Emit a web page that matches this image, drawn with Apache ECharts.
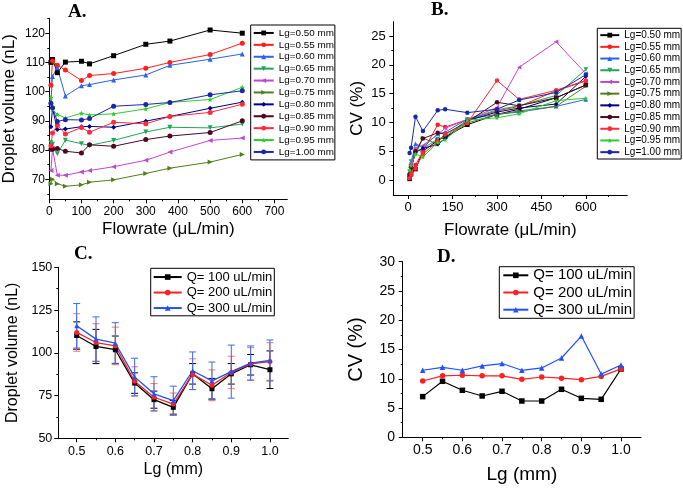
<!DOCTYPE html>
<html><head><meta charset="utf-8">
<script src="https://cdn.jsdelivr.net/npm/echarts@6/dist/echarts.min.js"></script>
<style>html,body{margin:0;padding:0;background:#fff}#c{width:683px;height:489px}</style>
</head><body><div id="c"></div>
<script>
// ---------- data ----------
const flowrates = [5, 10, 25, 50, 100, 125, 200, 300, 375, 500, 600];
const lgNames = ['Lg=0.50 mm','Lg=0.55 mm','Lg=0.60 mm','Lg=0.65 mm','Lg=0.70 mm','Lg=0.75 mm','Lg=0.80 mm','Lg=0.85 mm','Lg=0.90 mm','Lg=0.95 mm','Lg=1.00 mm'];
// Panel A: droplet volume (nL)
const volLg050 = [110.0, 111.0, 106.5, 110.1, 110.4, 109.5, 112.3, 116.2, 117.3, 121.1, 120.0];
const volLg055 = [102.2, 110.5, 109.0, 107.4, 103.8, 105.5, 106.2, 108.0, 110.0, 112.7, 116.6];
const volLg060 = [96.5, 105.2, 108.2, 98.5, 102.0, 102.4, 104.0, 105.7, 109.0, 111.1, 112.9];
const volLg065 = [82.5, 82.0, 78.7, 83.4, 82.2, 81.6, 83.3, 86.2, 87.8, 87.6, 88.9];
const volLg070 = [73.0, 80.5, 71.4, 71.4, 72.5, 73.0, 74.3, 76.5, 79.3, 83.3, 84.1];
const volLg075 = [68.5, 70.0, 68.5, 67.6, 68.1, 69.0, 69.8, 72.0, 73.8, 75.9, 78.5];
const volLg080 = [88.0, 94.3, 87.0, 87.2, 88.0, 88.1, 87.8, 89.9, 91.5, 94.3, 96.4];
const volLg085 = [80.3, 80.3, 80.5, 79.6, 79.0, 81.8, 81.3, 83.6, 84.8, 86.0, 90.0];
const volLg090 = [81.5, 85.8, 88.5, 85.5, 87.7, 86.1, 89.5, 89.0, 91.5, 92.9, 95.7];
const volLg095 = [98.0, 94.0, 92.2, 91.0, 92.6, 92.0, 92.4, 94.1, 96.3, 97.3, 101.5];
const volLg100 = [96.0, 94.5, 89.8, 90.4, 90.3, 90.8, 95.0, 95.6, 96.3, 98.9, 100.3];
// Panel B: CV (%)
const cvLg050 = [0.2, 1.0, 1.9, 5.0, 6.9, 7.5, 9.6, 11.4, 12.3, 14.3, 16.5];
const cvLg055 = [0.5, 1.3, 2.6, 5.0, 9.6, 9.2, 10.5, 12.0, 12.8, 15.5, 17.2];
const cvLg060 = [1.0, 3.0, 6.3, 5.7, 8.0, 8.3, 10.6, 11.4, 11.8, 12.8, 14.0];
const cvLg065 = [1.5, 3.2, 5.0, 5.5, 7.1, 7.5, 10.5, 12.2, 12.9, 14.7, 19.2];
const cvLg070 = [1.0, 3.0, 5.5, 6.0, 7.9, 9.0, 10.5, 12.6, 19.6, 24.0, 18.5];
const cvLg075 = [0.8, 2.5, 4.5, 7.3, 6.2, 7.2, 9.9, 11.4, 12.0, 12.8, 16.3];
const cvLg080 = [0.6, 2.0, 4.8, 5.5, 6.2, 7.2, 10.3, 11.8, 12.5, 13.2, 18.0];
const cvLg085 = [1.0, 2.2, 5.0, 7.2, 8.2, 8.0, 10.1, 13.5, 12.9, 14.3, 16.5];
const cvLg090 = [0.3, 1.0, 2.0, 4.5, 6.7, 8.0, 9.9, 17.3, 14.0, 15.6, 17.3];
const cvLg095 = [1.8, 2.5, 4.5, 4.0, 6.5, 7.0, 10.4, 10.8, 11.5, 13.8, 14.2];
const cvLg100 = [4.7, 5.6, 11.0, 8.5, 12.1, 12.3, 11.7, 12.3, 13.9, 15.2, 18.3];
// Panels C and D
const lgValues = [0.5, 0.55, 0.6, 0.65, 0.7, 0.75, 0.8, 0.85, 0.9, 0.95, 1.0];
const qNames = ['Q= 100 uL/min', 'Q= 200 uL/min', 'Q= 300 uL/min'];
const volQ100 = [110.1, 103.7, 101.8, 82.3, 72.6, 68.1, 87.7, 79.0, 87.7, 93.0, 90.1];
const volQ200 = [111.9, 106.0, 104.0, 83.3, 74.0, 70.0, 87.5, 81.0, 88.5, 93.5, 94.9];
const volQ300 = [115.8, 108.0, 105.6, 85.8, 76.0, 72.0, 89.5, 83.6, 89.0, 94.0, 95.5];
const errQ100 = [8, 10, 8, 6, 5, 4, 6, 6, 6, 6, 11];
const errQ200 = [11, 11, 11, 8.5, 8, 6.5, 9, 9, 9.5, 9.5, 11];
const errQ300 = [13, 13, 12, 11, 10, 8.5, 11, 11, 15.5, 10, 12];
const cvQ100 = [6.95, 9.57, 8.03, 7.06, 7.86, 6.2, 6.2, 8.2, 6.66, 6.49, 11.67];
const cvQ200 = [9.62, 10.5, 10.6, 10.5, 10.5, 9.9, 10.3, 10.1, 9.85, 10.4, 11.7];
const cvQ300 = [11.45, 11.96, 11.45, 12.2, 12.6, 11.45, 11.85, 13.55, 17.3, 10.8, 12.35];
// tick labels
const flowTicksA = [0, 100, 200, 300, 400, 500, 600, 700];
const volTicksA = [70, 80, 90, 100, 110, 120];
const flowTicksB = [0, 150, 300, 450, 600];
const cvTicksB = [0, 5, 10, 15, 20, 25];
const lgTicks = [0.5, 0.6, 0.7, 0.8, 0.9, 1.0];
const volTicksC = [50, 75, 100, 125, 150];
const cvTicksD = [0, 5, 10, 15, 20, 25, 30];
// minor tick positions
const flowMinorA = [50, 150, 250, 350, 450, 550, 650];
const volMinorA = [65, 75, 85, 95, 105, 115, 125];
const flowMinorB = [75, 225, 375, 525, 675];
const cvMinorB = [2.5, 7.5, 12.5, 17.5, 22.5];
const lgMinor = [0.55, 0.65, 0.75, 0.85, 0.95];
const volMinorC = [62.5, 87.5, 112.5, 137.5];
const cvMinorD = [2.5, 7.5, 12.5, 17.5, 22.5, 27.5];

// ---------- styles ----------
const FONT = "'Liberation Sans', Arial, sans-serif";
const STAR = 'path://M0,-10L2.9,-4L9.5,-3.1L4.8,1.5L5.9,8.1L0,5L-5.9,8.1L-4.8,1.5L-9.5,-3.1L-2.9,-4Z';
const lgStyles = [
  {c:'#000000', s:'rect', r:0},
  {c:'#ff1f1f', s:'circle', r:0},
  {c:'#2a62e8', s:'triangle', r:0},
  {c:'#22a65a', s:'triangle', r:180},
  {c:'#c048cc', s:'triangle', r:90},
  {c:'#4f7f1a', s:'triangle', r:-90},
  {c:'#000088', s:'diamond', r:0},
  {c:'#4a0a22', s:'circle', r:0},
  {c:'#ff2a3a', s:'circle', r:0},
  {c:'#2ecc2e', s:STAR, r:0},
  {c:'#1a28a8', s:'circle', r:0}
];
const volA = [volLg050, volLg055, volLg060, volLg065, volLg070, volLg075, volLg080, volLg085, volLg090, volLg095, volLg100];
const cvB = [cvLg050, cvLg055, cvLg060, cvLg065, cvLg070, cvLg075, cvLg080, cvLg085, cvLg090, cvLg095, cvLg100];
const qStyles = [{c:'#000000', s:'rect', e:'#000000'}, {c:'#ff2020', s:'circle', e:'#ff7070'}, {c:'#2050ff', s:'triangle', e:'#3a6cf0'}];

function xAx(grid, min, max, ticks, name, o) {
  return {
    type:'value', gridIndex:grid, position:'bottom', min:min, max:max, name:name, nameLocation:'middle', nameGap:o.ng,
    nameTextStyle:{fontFamily:FONT, fontSize:o.nfs, color:'#000'},
    axisLine:{onZero:false, lineStyle:{color:'#000', width:1}},
    axisTick:{show:true, inside:false, length:4, customValues:ticks, lineStyle:{color:'#000'}},
    axisLabel:{customValues:ticks, margin:o.lm, fontFamily:FONT, fontSize:o.lfs, color:'#000', formatter:o.fmt},
    splitLine:{show:false}
  };
}
function yAx(grid, min, max, ticks, name, o) {
  return {
    type:'value', gridIndex:grid, position:'left', min:min, max:max, name:name, nameLocation:'middle', nameGap:o.ng,
    nameTextStyle:{fontFamily:FONT, fontSize:o.nfs, color:'#000'},
    axisLine:{onZero:false, lineStyle:{color:'#000', width:1}},
    axisTick:{show:true, inside:false, length:4, customValues:ticks, lineStyle:{color:'#000'}},
    axisLabel:{customValues:ticks, margin:o.lm, fontFamily:FONT, fontSize:o.lfs, color:'#000'},
    splitLine:{show:false}
  };
}
function minorAx(grid, min, max, ticks, pos) {
  return {
    type:'value', gridIndex:grid, position:pos, offset:0, min:min, max:max,
    axisLine:{show:false, onZero:false},
    axisTick:{show:true, inside:false, length:2, customValues:ticks, lineStyle:{color:'#000'}},
    axisLabel:{show:false}, splitLine:{show:false}
  };
}
const fmt1 = v => v.toFixed(1);

const series = [];
lgNames.forEach((n, i) => {
  const st = lgStyles[i];
  series.push({type:'line', name:n, xAxisIndex:0, yAxisIndex:0, data:flowrates.map((f, k) => [f, volA[i][k]]),
    symbol:st.s, symbolRotate:st.r, symbolSize:5, lineStyle:{width:1, color:st.c}, itemStyle:{color:st.c}, z:3});
});
lgNames.forEach((n, i) => {
  const st = lgStyles[i];
  series.push({type:'line', name:n, xAxisIndex:1, yAxisIndex:1, data:flowrates.map((f, k) => [f, cvB[i][k]]),
    symbol:st.s, symbolRotate:st.r, symbolSize:4.5, lineStyle:{width:1, color:st.c}, itemStyle:{color:st.c}, z:3});
});
const volC = [volQ100, volQ200, volQ300];
const errC = [errQ100, errQ200, errQ300];
const cvD = [cvQ100, cvQ200, cvQ300];
qNames.forEach((n, i) => {
  const st = qStyles[i];
  series.push({type:'custom', name:'err' + i, xAxisIndex:2, yAxisIndex:2, z:2, silent:true,
    data: lgValues.map((x, k) => [x, volC[i][k] - errC[i][k], volC[i][k] + errC[i][k]]),
    renderItem: (params, api) => {
      const x = api.value(0);
      const lo = api.coord([x, api.value(1)]);
      const hi = api.coord([x, api.value(2)]);
      const w = 3.5;
      const sty = {stroke:st.e, lineWidth:1};
      return {type:'group', children:[
        {type:'line', shape:{x1:lo[0], y1:lo[1], x2:hi[0], y2:hi[1]}, style:sty},
        {type:'line', shape:{x1:lo[0]-w, y1:lo[1], x2:lo[0]+w, y2:lo[1]}, style:sty},
        {type:'line', shape:{x1:hi[0]-w, y1:hi[1], x2:hi[0]+w, y2:hi[1]}, style:sty}
      ]};
    }});
});
qNames.forEach((n, i) => {
  const st = qStyles[i];
  series.push({type:'line', name:n, xAxisIndex:2, yAxisIndex:2, data:lgValues.map((x, k) => [x, volC[i][k]]),
    symbol:st.s, symbolSize:5, lineStyle:{width:1.3, color:st.c}, itemStyle:{color:st.c}, z:3});
});
qNames.forEach((n, i) => {
  const st = qStyles[i];
  series.push({type:'line', name:n, xAxisIndex:3, yAxisIndex:3, data:lgValues.map((x, k) => [x, cvD[i][k]]),
    symbol:st.s, symbolSize:5.5, lineStyle:{width:1.2, color:st.c}, itemStyle:{color:st.c}, z:3});
});

const titleStyle = {fontFamily:"'Liberation Serif', 'Times New Roman', serif", fontWeight:'bold', fontSize:19, color:'#000'};
const legendBase = {orient:'vertical', borderColor:'#000', borderWidth:1, itemGap:0, backgroundColor:'#fff'};

const option = {
  backgroundColor:'#fff',
  animation:false,
  title:[
    {text:'A.', left:68, top:3, padding:0, textStyle:titleStyle},
    {text:'B.', left:431, top:1, padding:0, textStyle:titleStyle},
    {text:'C.', left:74, top:245, padding:0, textStyle:titleStyle},
    {text:'D.', left:437, top:248, padding:0, textStyle:titleStyle}
  ],
  grid:[
    {left:49.3, top:18.3, width:238, height:181},
    {left:393.3, top:21.7, width:234, height:173.3},
    {left:58.3, top:267.3, width:230, height:171},
    {left:402.7, top:261.7, width:238.3, height:175.6}
  ],
  xAxis:[
    xAx(0, 0, 740, flowTicksA, 'Flowrate (\u03bcL/min)', {ng:21.5, nfs:17, lm:6, lfs:12}),
    xAx(1, -50, 740, flowTicksB, 'Flowrate (\u03bcL/min)', {ng:26.5, nfs:17, lm:5.5, lfs:13}),
    xAx(2, 0.4525, 1.0475, lgTicks, 'Lg (mm)', {ng:23.5, nfs:16, lm:7, lfs:12.5, fmt:fmt1}),
    xAx(3, 0.4496, 1.0504, lgTicks, 'Lg (mm)', {ng:27.5, nfs:19, lm:5.5, lfs:14, fmt:fmt1}),
    minorAx(0, 0, 740, flowMinorA, 'bottom'),
    minorAx(1, -50, 740, flowMinorB, 'bottom'),
    minorAx(2, 0.4525, 1.0475, lgMinor, 'bottom'),
    minorAx(3, 0.4496, 1.0504, lgMinor, 'bottom')
  ],
  yAxis:[
    yAx(0, 63.15, 125.1, volTicksA, 'Droplet volume (nL)', {ng:31, nfs:17, lm:4.3, lfs:12}),
    yAx(1, -2.6, 27.5, cvTicksB, 'CV (%)', {ng:27, nfs:17, lm:7.6, lfs:13}),
    yAx(2, 50, 150, volTicksC, 'Droplet volume (nL)', {ng:38, nfs:16, lm:6, lfs:12.5}),
    yAx(3, 0, 30, cvTicksD, 'CV (%)', {ng:36, nfs:20, lm:7.7, lfs:14}),
    minorAx(0, 63.15, 125.1, volMinorA, 'left'),
    minorAx(1, -2.6, 27.5, cvMinorB, 'left'),
    minorAx(2, 50, 150, volMinorC, 'left'),
    minorAx(3, 0, 30, cvMinorD, 'left')
  ],
  legend:[
    Object.assign({}, legendBase, {data:lgNames, left:250.7, top:25, padding:[2,1,2,2], itemWidth:20, itemHeight:6,
      textStyle:{fontFamily:FONT, fontSize:9.9, lineHeight:11.9, color:'#000'}}),
    Object.assign({}, legendBase, {data:lgNames, left:597.3, top:28.3, padding:[1,1,1,2], itemWidth:19, itemHeight:6,
      textStyle:{fontFamily:FONT, fontSize:10, lineHeight:11.7, color:'#000'}}),
    Object.assign({}, legendBase, {data:qNames, left:150.7, top:268.3, padding:[1,2,0,2], itemWidth:28, itemHeight:7,
      textStyle:{fontFamily:FONT, fontSize:13, lineHeight:15.5, color:'#000'}}),
    Object.assign({}, legendBase, {data:qNames, left:499.3, top:266.7, padding:[0,2,0,3], itemWidth:25, itemHeight:7,
      textStyle:{fontFamily:FONT, fontSize:15, lineHeight:17.2, color:'#000'}})
  ],
  series: series
};
const chart = echarts.init(document.getElementById('c'), null, {renderer:'canvas'});
chart.setOption(option);
</script></body></html>
